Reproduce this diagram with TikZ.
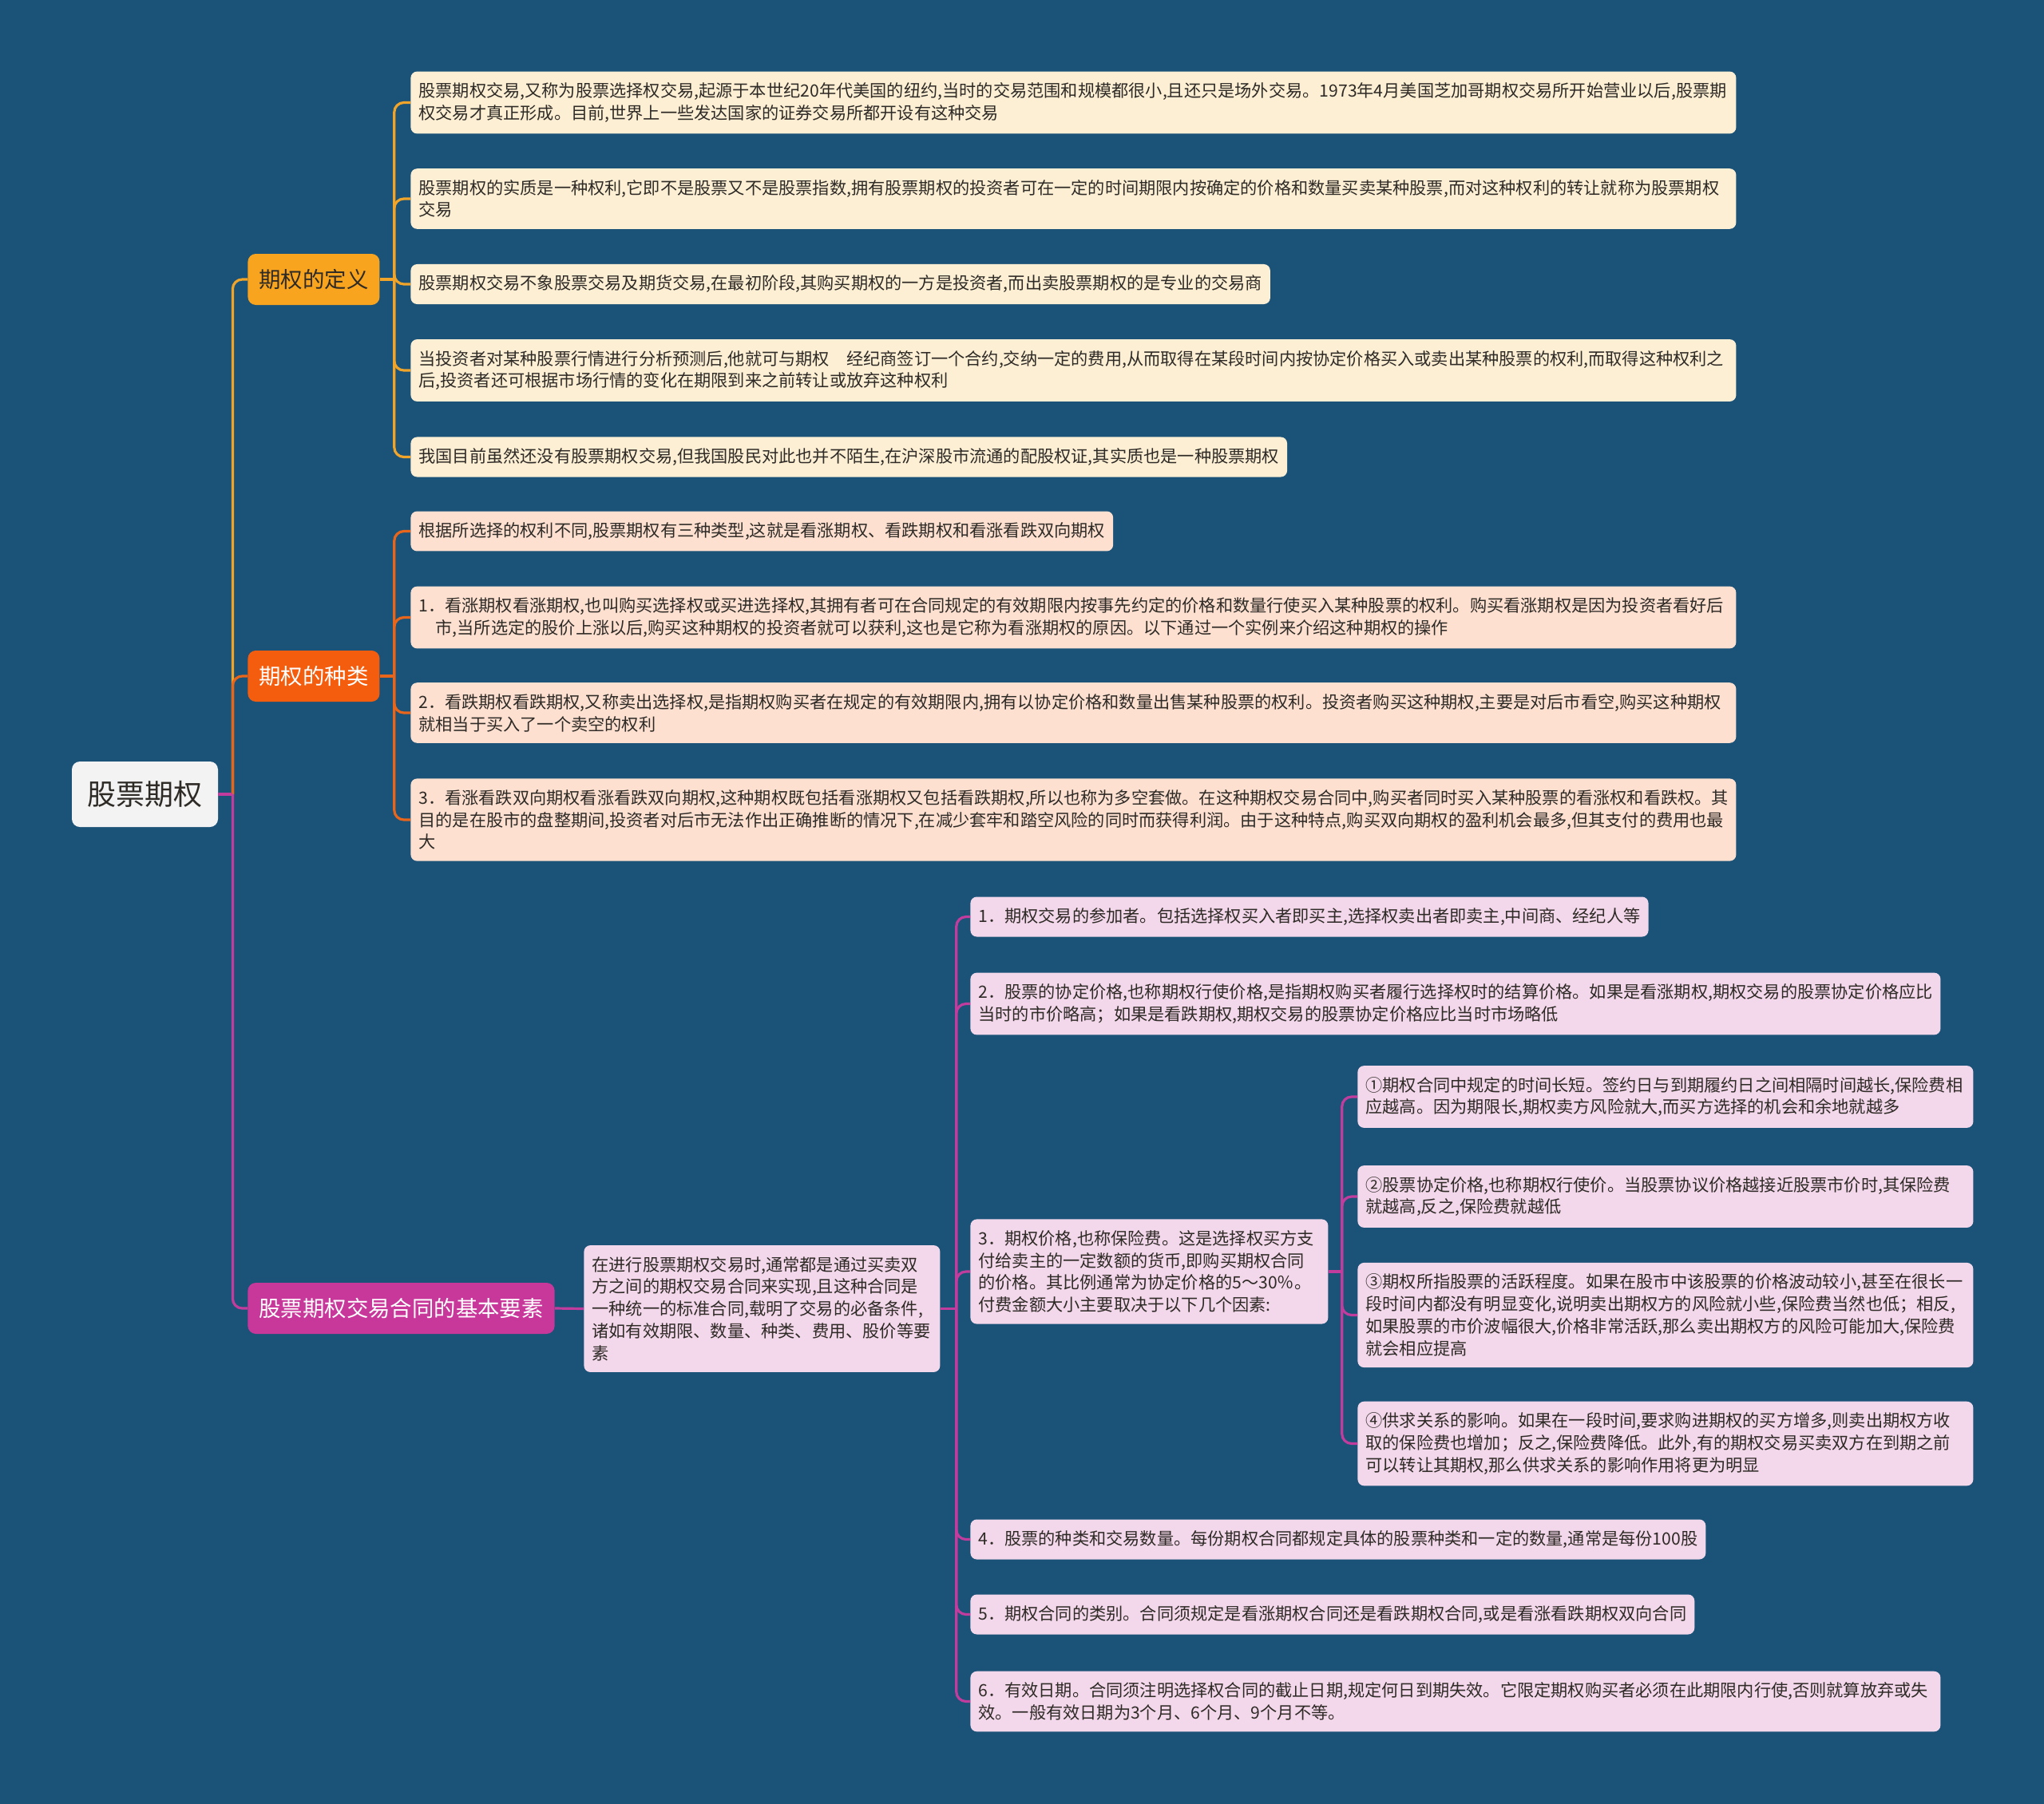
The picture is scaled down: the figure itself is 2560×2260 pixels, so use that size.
\documentclass[tikz,border=0pt]{standalone}
\usepackage{fontspec}
\setmainfont{Noto Sans CJK SC}
\usetikzlibrary{positioning, calc}

\definecolor{bgblue}{HTML}{1B5378}
\definecolor{rootgray}{HTML}{F3F3F3}
\definecolor{textdark}{HTML}{2E2A26}
\definecolor{goldA}{HTML}{F9A41E}
\definecolor{orangeB}{HTML}{F55D0E}
\definecolor{magentaC}{HTML}{C8379A}
\definecolor{goldline}{HTML}{F0A52A}
\definecolor{orangeline}{HTML}{E8661C}
\definecolor{magentaline}{HTML}{C23C9E}
\definecolor{creamA}{HTML}{FDEFD4}
\definecolor{peachB}{HTML}{FDE0D0}
\definecolor{pinkC}{HTML}{F3D7EA}
\setlength{\parindent}{0pt}

\begin{document}
\begin{tikzpicture}[
    x=0.5pt, y=-0.5pt,
    rootbox/.style={rectangle, rounded corners=5pt, fill=rootgray, text=textdark, minimum width=91.5pt, minimum height=41pt, font=\fontsize{18}{22}\selectfont},
    topicbox/.style={rectangle, rounded corners=5pt, minimum height=32pt, inner xsep=7pt, anchor=west, font=\fontsize{13.7}{16}\selectfont},
    leafbox/.style={rectangle, rounded corners=4pt, inner xsep=5pt, inner ysep=7pt, align=left, anchor=west, text=textdark, font=\fontsize{10.6}{13.9}\selectfont},
    defbox/.style={leafbox, fill=creamA},
    kindbox/.style={leafbox, fill=peachB},
    elembox/.style={leafbox, fill=pinkC},
    link/.style={line width=1.6pt, rounded corners=6pt}
  ]
    % canvas
    \useasboundingbox (0,0) rectangle (2560,2260);
    \fill[bgblue] (0,0) rectangle (2560,2260);

    % Root
    \node[rootbox] (root) at (181.5,995) {股票期权};

    % Topics
    \node[topicbox, fill=goldA, text=textdark] (def) at (310,350) {期权的定义};
    \node[topicbox, fill=orangeB, text=white] (kind) at (310,847) {期权的种类};
    \node[topicbox, fill=magentaC, text=white] (elem) at (310,1639) {股票期权交易合同的基本要素};

    % Definition leaves
    \node[defbox, text width=820pt] (def1) at (514,128.5) {股票期权交易,又称为股票选择权交易,起源于本世纪20年代美国的纽约,当时的交易范围和规模都很小,且还只是场外交易。1973年4月美国芝加哥期权交易所开始营业以后,股票期\\权交易才真正形成。目前,世界上一些发达国家的证券交易所都开设有这种交易};
    \node[defbox, text width=820pt] (def2) at (514,249) {股票期权的实质是一种权利,它即不是股票又不是股票指数,拥有股票期权的投资者可在一定的时间期限内按确定的价格和数量买卖某种股票,而对这种权利的转让就称为股票期权\\交易};
    \node[defbox] (def3) at (514,356) {股票期权交易不象股票交易及期货交易,在最初阶段,其购买期权的一方是投资者,而出卖股票期权的是专业的交易商};
    \node[defbox, text width=820pt] (def4) at (514,464) {当投资者对某种股票行情进行分析预测后,他就可与期权　经纪商签订一个合约,交纳一定的费用,从而取得在某段时间内按协定价格买入或卖出某种股票的权利,而取得这种权利之\\后,投资者还可根据市场行情的变化在期限到来之前转让或放弃这种权利};
    \node[defbox] (def5) at (514,572.5) {我国目前虽然还没有股票期权交易,但我国股民对此也并不陌生,在沪深股市流通的配股权证,其实质也是一种股票期权};

    % Kind leaves
    \node[kindbox] (kind0) at (514,665.5) {根据所选择的权利不同,股票期权有三种类型,这就是看涨期权、看跌期权和看涨看跌双向期权};
    \node[kindbox, text width=820pt] (kind1) at (514,773.5) {1．看涨期权看涨期权,也叫购买选择权或买进选择权,其拥有者可在合同规定的有效期限内按事先约定的价格和数量行使买入某种股票的权利。购买看涨期权是因为投资者看好后\\\hspace*{1em}市,当所选定的股价上涨以后,购买这种期权的投资者就可以获利,这也是它称为看涨期权的原因。以下通过一个实例来介绍这种期权的操作};
    \node[kindbox, text width=820pt] (kind2) at (514,893) {2．看跌期权看跌期权,又称卖出选择权,是指期权购买者在规定的有效期限内,拥有以协定价格和数量出售某种股票的权利。投资者购买这种期权,主要是对后市看空,购买这种期权\\就相当于买入了一个卖空的权利};
    \node[kindbox, text width=820pt] (kind3) at (514,1027) {3．看涨看跌双向期权看涨看跌双向期权,这种期权既包括看涨期权又包括看跌期权,所以也称为多空套做。在这种期权交易合同中,购买者同时买入某种股票的看涨权和看跌权。其\\目的是在股市的盘整期间,投资者对后市无法作出正确推断的情况下,在减少套牢和踏空风险的同时而获得利润。由于这种特点,购买双向期权的盈利机会最多,但其支付的费用也最\\大};

    % Contract elements
    \node[elembox, text width=213pt] (main) at (731,1639.5) {在进行股票期权交易时,通常都是通过买卖双\\方之间的期权交易合同来实现,且这种合同是\\一种统一的标准合同,载明了交易的必备条件,\\诸如有效期限、数量、种类、费用、股价等要\\素};
    \node[elembox] (el1) at (1215,1148.5) {1．期权交易的参加者。包括选择权买入者即买主,选择权卖出者即卖主,中间商、经纪人等};
    \node[elembox, text width=597.5pt] (el2) at (1215,1257.5) {2．股票的协定价格,也称期权行使价格,是指期权购买者履行选择权时的结算价格。如果是看涨期权,期权交易的股票协定价格应比\\当时的市价略高；如果是看跌期权,期权交易的股票协定价格应比当时市场略低};
    \node[elembox, text width=214pt] (el3) at (1215,1593) {3．期权价格,也称保险费。这是选择权买方支\\付给卖主的一定数额的货币,即购买期权合同\\的价格。其比例通常为协定价格的5～30％。\\付费金额大小主要取决于以下几个因素:};
    \node[elembox] (el4) at (1215,1928.5) {4．股票的种类和交易数量。每份期权合同都规定具体的股票种类和一定的数量,通常是每份100股};
    \node[elembox] (el5) at (1215,2022.5) {5．期权合同的类别。合同须规定是看涨期权合同还是看跌期权合同,或是看涨看跌期权双向合同};
    \node[elembox, text width=597.5pt] (el6) at (1215,2131.5) {6．有效日期。合同须注明选择权合同的截止日期,规定何日到期失效。它限定期权购买者必须在此期限内行使,否则就算放弃或失\\效。一般有效日期为3个月、6个月、9个月不等。};

    % Price factors
    \node[elembox, text width=375.5pt] (fac1) at (1700,1374) {①期权合同中规定的时间长短。签约日与到期履约日之间相隔时间越长,保险费相\\应越高。因为期限长,期权卖方风险就大,而买方选择的机会和余地就越多};
    \node[elembox, text width=375.5pt] (fac2) at (1700,1499) {②股票协定价格,也称期权行使价。当股票协议价格越接近股票市价时,其保险费\\就越高,反之,保险费就越低};
    \node[elembox, text width=375.5pt] (fac3) at (1700,1647.5) {③期权所指股票的活跃程度。如果在股市中该股票的价格波动较小,甚至在很长一\\段时间内都没有明显变化,说明卖出期权方的风险就小些,保险费当然也低；相反,\\如果股票的市价波幅很大,价格非常活跃,那么卖出期权方的风险可能加大,保险费\\就会相应提高};
    \node[elembox, text width=375.5pt] (fac4) at (1700,1808.5) {④供求关系的影响。如果在一段时间,要求购进期权的买方增多,则卖出期权方收\\取的保险费也增加；反之,保险费降低。此外,有的期权交易买卖双方在到期之前\\可以转让其期权,那么供求关系的影响作用将更为明显};

    % Junction points
    \coordinate (rootJ) at ([xshift=9pt]root.east);
    \coordinate (defJ) at ([xshift=9pt]def.east);
    \coordinate (kindJ) at ([xshift=9pt]kind.east);
    \coordinate (mainJ) at ([xshift=10pt]main.east);
    \coordinate (el3J) at ([xshift=8.5pt]el3.east);

    % Root to topics
    \draw[link, goldline] (rootJ) |- (def.west);
    \draw[link, orangeline] (rootJ) |- (kind.west);
    \draw[link, magentaline] (rootJ) |- (elem.west);
    \draw[link, magentaline] (root.east) -- (rootJ);

    % Definition connectors
    \draw[link, goldline] (def.east) -- (defJ);
    \draw[link, goldline] (defJ) |- (def1.west);
    \draw[link, goldline] (defJ) |- (def2.west);
    \draw[link, goldline] (defJ) |- (def3.west);
    \draw[link, goldline] (defJ) |- (def4.west);
    \draw[link, goldline] (defJ) |- (def5.west);

    % Kind connectors
    \draw[link, orangeline] (kind.east) -- (kindJ);
    \draw[link, orangeline] (kindJ) |- (kind0.west);
    \draw[link, orangeline] (kindJ) |- (kind1.west);
    \draw[link, orangeline] (kindJ) |- (kind2.west);
    \draw[link, orangeline] (kindJ) |- (kind3.west);

    % Element connectors
    \draw[link, magentaline] (elem.east) -- (main.west);
    \draw[link, magentaline] (main.east) -- (mainJ);
    \draw[link, magentaline] (mainJ) |- (el1.west);
    \draw[link, magentaline] (mainJ) |- (el2.west);
    \draw[link, magentaline] (mainJ) |- (el3.west);
    \draw[link, magentaline] (mainJ) |- (el4.west);
    \draw[link, magentaline] (mainJ) |- (el5.west);
    \draw[link, magentaline] (mainJ) |- (el6.west);

    % Factor connectors
    \draw[link, magentaline] (el3.east) -- (el3J);
    \draw[link, magentaline] (el3J) |- (fac1.west);
    \draw[link, magentaline] (el3J) |- (fac2.west);
    \draw[link, magentaline] (el3J) |- (fac3.west);
    \draw[link, magentaline] (el3J) |- (fac4.west);
  \end{tikzpicture}
\end{document}
